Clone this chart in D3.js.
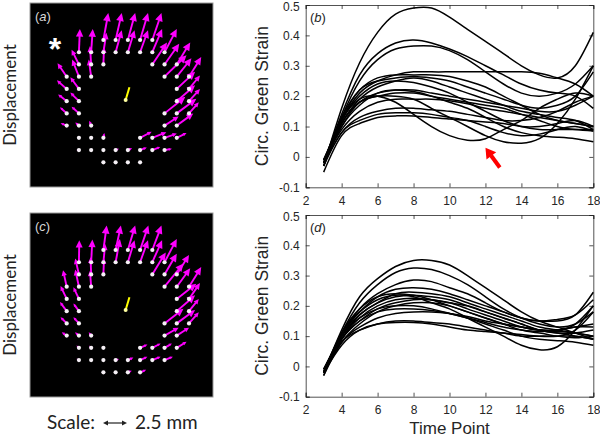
<!DOCTYPE html>
<html><head><meta charset="utf-8">
<script src="https://cdn.jsdelivr.net/npm/d3@7"></script>
<style>html,body{margin:0;padding:0;background:#fff;} svg{display:block}</style>
</head><body>
<svg id="fig" width="600" height="438"></svg>
<script>
// ---------------- DATA ----------------
const timePoints = [3,4,5,6,7,8,9,10,11,12,13,14,15,16,17,18];
const xTicks = [2,4,6,8,10,12,14,16,18];
const yTicks = [-0.1,0,0.1,0.2,0.3,0.4,0.5];

// panel (b) circumferential Green strain curves
const strainB = [
  [-0.03,0.16,0.31,0.41,0.47,0.49,0.49,0.46,0.42,0.38,0.34,0.30,0.27,0.26,0.30,0.41],
  [-0.02,0.14,0.27,0.34,0.375,0.385,0.375,0.355,0.33,0.30,0.27,0.24,0.22,0.21,0.20,0.16],
  [-0.02,0.13,0.25,0.32,0.355,0.365,0.365,0.35,0.32,0.28,0.24,0.21,0.20,0.21,0.24,0.30],
  [-0.01,0.12,0.21,0.25,0.27,0.28,0.28,0.28,0.28,0.28,0.28,0.28,0.275,0.26,0.24,0.20],
  [-0.02,0.13,0.22,0.26,0.27,0.27,0.27,0.265,0.25,0.23,0.20,0.17,0.14,0.12,0.11,0.10],
  [-0.03,0.12,0.22,0.25,0.26,0.265,0.26,0.25,0.23,0.21,0.19,0.17,0.16,0.17,0.20,0.28],
  [-0.02,0.11,0.19,0.23,0.25,0.26,0.25,0.23,0.21,0.19,0.17,0.15,0.14,0.13,0.12,0.09],
  [-0.02,0.10,0.18,0.21,0.22,0.22,0.21,0.20,0.19,0.18,0.17,0.16,0.15,0.15,0.17,0.20],
  [-0.01,0.11,0.18,0.20,0.21,0.21,0.20,0.19,0.18,0.17,0.16,0.14,0.12,0.10,0.09,0.085],
  [-0.02,0.12,0.19,0.20,0.18,0.14,0.10,0.07,0.055,0.06,0.09,0.12,0.16,0.19,0.21,0.20],
  [-0.03,0.11,0.18,0.20,0.20,0.19,0.16,0.13,0.10,0.07,0.05,0.045,0.06,0.11,0.19,0.30],
  [-0.01,0.09,0.15,0.18,0.19,0.19,0.19,0.185,0.175,0.16,0.15,0.14,0.13,0.12,0.11,0.10],
  [-0.02,0.08,0.13,0.15,0.16,0.16,0.155,0.15,0.14,0.13,0.12,0.12,0.13,0.15,0.18,0.20],
  [-0.05,0.07,0.11,0.13,0.135,0.135,0.13,0.125,0.12,0.115,0.11,0.10,0.10,0.11,0.12,0.10],
  [-0.03,0.08,0.12,0.14,0.145,0.145,0.14,0.13,0.12,0.10,0.08,0.07,0.075,0.09,0.10,0.085],
  [-0.02,0.10,0.17,0.21,0.22,0.215,0.20,0.18,0.16,0.13,0.10,0.08,0.07,0.065,0.06,0.05],
  [-0.02,0.12,0.20,0.24,0.25,0.245,0.23,0.21,0.18,0.15,0.12,0.10,0.09,0.09,0.09,0.09]
];

// panel (d) circumferential Green strain curves
const strainD = [
  [-0.02,0.12,0.23,0.29,0.33,0.35,0.35,0.335,0.30,0.26,0.22,0.18,0.15,0.13,0.11,0.09],
  [-0.02,0.11,0.21,0.27,0.31,0.325,0.32,0.30,0.27,0.23,0.19,0.16,0.14,0.13,0.14,0.18],
  [-0.02,0.10,0.19,0.24,0.27,0.285,0.28,0.26,0.24,0.21,0.18,0.16,0.15,0.155,0.17,0.22],
  [-0.03,0.10,0.18,0.23,0.255,0.26,0.255,0.24,0.22,0.20,0.18,0.16,0.15,0.15,0.17,0.245],
  [-0.02,0.09,0.17,0.21,0.24,0.245,0.24,0.23,0.21,0.19,0.17,0.15,0.13,0.12,0.11,0.10],
  [-0.01,0.10,0.17,0.21,0.23,0.235,0.23,0.22,0.20,0.18,0.16,0.14,0.12,0.11,0.11,0.12],
  [-0.02,0.11,0.18,0.22,0.235,0.23,0.21,0.19,0.16,0.13,0.10,0.07,0.055,0.065,0.12,0.20],
  [-0.01,0.09,0.15,0.19,0.21,0.22,0.22,0.21,0.20,0.18,0.16,0.14,0.12,0.11,0.10,0.09],
  [-0.02,0.08,0.14,0.18,0.20,0.21,0.21,0.20,0.18,0.16,0.14,0.13,0.12,0.12,0.13,0.14],
  [-0.02,0.09,0.15,0.18,0.19,0.19,0.185,0.175,0.16,0.14,0.12,0.10,0.09,0.085,0.08,0.07],
  [-0.03,0.08,0.13,0.16,0.175,0.18,0.18,0.175,0.165,0.15,0.14,0.13,0.12,0.115,0.11,0.10],
  [-0.02,0.07,0.12,0.14,0.145,0.145,0.14,0.13,0.12,0.115,0.11,0.105,0.10,0.10,0.12,0.18],
  [-0.02,0.08,0.12,0.14,0.15,0.15,0.145,0.14,0.13,0.12,0.11,0.10,0.10,0.10,0.10,0.09],
  [-0.01,0.10,0.16,0.19,0.20,0.20,0.19,0.175,0.16,0.145,0.13,0.12,0.115,0.12,0.13,0.13],
  [-0.02,0.11,0.19,0.23,0.24,0.235,0.22,0.20,0.18,0.16,0.14,0.12,0.11,0.10,0.095,0.10],
  [-0.02,0.09,0.16,0.20,0.22,0.225,0.22,0.21,0.19,0.17,0.15,0.13,0.12,0.12,0.14,0.20]
];

// red arrow in (b): from / to in data units
const redArrowFrom = [12.8, -0.035];
const redArrowTo = [12.0, 0.03];

// displacement grid points (row, col indices) and vectors (grid units, v = up)
const dotRow = [0,0,0,0,0, 1,1,1,1,1,1,1,1, 2,2,2,2,2,2, 3,3,3,3,3,3, 4,4,4,4, 5,5,5,5, 6,6,6,6,6, 7,7,7,7,7, 8,8,8,8,8,8,8, 9,9,9,9,9,9,9,9, 10,10,10,10];
const dotCol = [3,4,5,6,7, 1,2,3,4,5,6,7,8, 1,2,3,7,8,9, 0,1,2,8,9,10, 0,1,9,10, 0,1,9,10, 0,1,8,9,10, 0,1,2,8,9, 1,2,3,6,7,8,9, 1,2,3,4,5,6,7,8, 3,4,5,6];
const uA = [0.4,0.5,0.6,0.65,0.75, 0.08,0.13,0.25,0.5,0.55,0.65,0.8,1.0, -0.6,-0.1,0.05,1.2,1.2,1.1, -0.75,-0.55,-0.2,1.8,1.2,1.0, -0.8,-0.7,1.5,0.9, -0.7,-0.7,1.5,0.9, -0.55,-0.6,1.7,1.6,0.8, -0.5,-0.3,-0.15,1.15,1.35, -0.1,-0.05,0.08,0.95,1.15,1.0,0.8, -0.2,-0.05,0,0.27,0.35,0.55,0.65,0.6, 0,0,0,0];
const vA = [2.2,2.2,2.2,2.2,2.2, 1.9,1.9,1.6,1.8,1.8,1.8,1.9,1.9, 1.2,1.5,1.4,1.8,1.7,1.8, 1.1,1.4,1.4,1.75,1.5,1.6, 0.7,0.95,1.4,1.1, 0.55,0.7,1.3,1.0, 0.5,0.55,1.35,1.2,0.9, 0.2,0.25,0.4,0.75,1.0, 0.05,0.15,0.4,0.5,0.45,0.35,0.4, 0,0.05,0.1,0.1,0.15,0.2,0.25,0.1, 0,0,0,0];
const uC = [0.27,0.43,0.6,0.68,0.75, 0.03,0.1,0.15,0.35,0.55,0.65,0.8,1.0, -0.3,-0.05,0.05,1.1,1.0,1.0, -0.3,-0.3,-0.1,1.55,1.1,1.0, -0.5,-0.45,1.6,0.9, -0.55,-0.45,1.5,0.8, -0.5,-0.45,1.55,1.5,0.8, -0.4,-0.32,-0.2,1.15,1.0, -0.2,-0.15,0,0.6,0.68,0.6,0.8, -0.2,0,0,0.27,0.45,0.6,0.68,0.68, 0,0,0.32,0.5];
const vC = [2.0,2.0,2.0,2.0,2.0, 1.8,1.85,1.5,1.9,1.8,1.8,1.8,1.9, 1.3,1.4,1.3,1.8,1.7,1.6, 1.35,1.4,1.3,1.9,1.5,1.6, 1.05,0.95,1.25,1.3, 0.75,0.62,1.3,1.0, 0.5,0.5,1.2,1.1,0.9, 0.27,0.27,0.27,0.65,0.65, 0.2,0.2,0,0.27,0.35,0.35,0.5, 0.1,0,0,0.08,0.2,0.27,0.27,0.27, 0,0,0.13,0.2];
// centre marker (grid units) and its yellow vector
const centre = [4.82, 4.9];
const centreVec = [0.3, 1.0];

// ---------------- DRAW ----------------
const svg = d3.select("#fig");
svg.append("rect").attr("width",600).attr("height",438).attr("fill","#fff");

function arrowHead(g, x0, y0, x1, y1, color, stemW, hLen, hW) {
  const dx = x1 - x0, dy = y1 - y0, len = Math.hypot(dx, dy);
  if (len < 0.8) return;
  const ux = dx/len, uy = dy/len;
  const h = Math.min(hLen, len*0.8);
  const bx = x1 - ux*h, by = y1 - uy*h;
  g.append("line").attr("x1",x0).attr("y1",y0).attr("x2",bx+ux*0.5).attr("y2",by+uy*0.5)
    .attr("stroke",color).attr("stroke-width",stemW);
  const w = hW * (h/hLen);
  g.append("path").attr("d",`M${x1},${y1}L${bx-uy*w},${by+ux*w}L${bx+uy*w},${by-ux*w}Z`).attr("fill",color);
}

function drawField(top, u, v, letter, star) {
  const g = svg.append("g");
  g.append("rect").attr("x",30).attr("y",top).attr("width",183).attr("height",184)
    .attr("fill","#000").attr("stroke","#9a9a9a").attr("stroke-width",1);
  const gx = d3.scaleLinear().domain([0,10]).range([66.7,189]);
  const gy = d3.scaleLinear().domain([0,10]).range([top+37, top+159.3]);
  dotRow.forEach((r,i) => {
    const c = dotCol[i];
    const x0 = gx(c), y0 = gy(r), x1 = gx(c+u[i]), y1 = gy(r - v[i]);
    const len = Math.hypot(x1-x0, y1-y0);
    const hl = Math.max(3, Math.min(8, len*0.33));
    arrowHead(g, x0, y0, x1, y1, "#ff00ff", 1.9, hl, hl*0.48);
  });
  g.selectAll("circle.dot").data(dotRow).enter().append("circle").attr("class","dot")
    .attr("cx",(r,i)=>gx(dotCol[i])).attr("cy",r=>gy(r)).attr("r",2.1).attr("fill","#f5f0f5");
  arrowHead(g, gx(centre[0]), gy(centre[1]), gx(centre[0]+centreVec[0]), gy(centre[1]-centreVec[1]), "#ffff00", 2, 0.1, 0.1);
  g.append("circle").attr("cx",gx(centre[0])).attr("cy",gy(centre[1])).attr("r",2).attr("fill","#ffffa0");
  const t = g.append("text").attr("x",35).attr("y",top+18).attr("fill","#d8d8d8")
    .attr("font-family","Liberation Sans, Arial, sans-serif").attr("font-size",13);
  t.append("tspan").text("(");
  t.append("tspan").attr("font-style","italic").text(letter);
  t.append("tspan").text(")");
  if (star) {
    g.append("text").attr("x",55).attr("y",top+57).attr("text-anchor","middle").attr("fill","#fff")
      .attr("font-family","Liberation Sans, Arial, sans-serif").attr("font-weight","bold").attr("font-size",32).text("*");
  }
  svg.append("text").attr("transform",`translate(16,${top+92}) rotate(-90)`).attr("text-anchor","middle")
    .attr("font-family","Lato, Open Sans, sans-serif").attr("font-size",17).attr("fill","#222").text("Displacement");
}

drawField(3, uA, vA, "a", true);
drawField(213, uC, vC, "c", false);

// scale bar text
const sc = svg.append("g").attr("font-family","Lato, Open Sans, sans-serif").attr("font-size",19).attr("fill","#222");
sc.append("text").attr("x",47).attr("y",429).text("Scale:");
sc.append("text").attr("x",135).attr("y",429).text("2.5 mm");
const sa = svg.append("g");
arrowHead(sa, 115, 423, 127, 423, "#222", 1.2, 5, 2.6);
arrowHead(sa, 115, 423, 103, 423, "#222", 1.2, 5, 2.6);

function drawStrain(yTop, yBot, curves, letter, showXLabel) {
  const x = d3.scaleLinear().domain([2,18]).range([305.7,593.3]);
  const y = d3.scaleLinear().domain([-0.1,0.5]).range([yBot,yTop]);
  const g = svg.append("g").attr("font-family","Liberation Sans, Arial, sans-serif");
  const fmtY = d => d === 0 ? "0" : (d < 0 ? "-" + Math.abs(d).toFixed(1) : d.toFixed(1));
  const axB = g.append("g").attr("transform",`translate(0,${yBot})`)
    .call(d3.axisBottom(x).tickValues(xTicks).tickSize(-4).tickPadding(9).tickFormat(d3.format("d")));
  const axT = g.append("g").attr("transform",`translate(0,${yTop})`)
    .call(d3.axisTop(x).tickValues(xTicks).tickSize(-4).tickFormat(""));
  const axL = g.append("g").attr("transform",`translate(305.7,0)`)
    .call(d3.axisLeft(y).tickValues(yTicks).tickSize(-4).tickPadding(6).tickFormat(fmtY));
  const axR = g.append("g").attr("transform",`translate(593.3,0)`)
    .call(d3.axisRight(y).tickValues(yTicks).tickSize(-4).tickFormat(""));
  [axB,axT,axL,axR].forEach(a => {
    a.selectAll("path,line").attr("stroke","#262626").attr("stroke-width",0.8);
    a.selectAll("text").attr("font-size",12).attr("fill","#262626").attr("font-family","Liberation Sans, Arial, sans-serif");
  });
  // keep the top tick label inside the picture
  axL.selectAll(".tick text").filter(d => d === 0.5).attr("dy","0.45em");
  const line = d3.line().x((d,i)=>x(timePoints[i])).y(d=>y(d)).curve(d3.curveNatural);
  g.append("g").selectAll("path").data(curves).enter().append("path")
    .attr("d",line).attr("fill","none").attr("stroke","#000").attr("stroke-width",1.5);
  const t = g.append("text").attr("x",310).attr("y",yTop+17).attr("fill","#262626").attr("font-size",13);
  t.append("tspan").text("(");
  t.append("tspan").attr("font-style","italic").text(letter);
  t.append("tspan").text(")");
  g.append("text").attr("transform",`translate(268,${(yTop+yBot)/2}) rotate(-90)`).attr("text-anchor","middle")
    .attr("font-size",17.5).attr("fill","#262626").text("Circ. Green Strain");
  if (showXLabel) {
    g.append("text").attr("x",(305.7+593.3)/2).attr("y",434).attr("text-anchor","middle")
      .attr("font-size",17).attr("fill","#262626").text("Time Point");
  }
  return {x, y, g};
}

const pb = drawStrain(5, 187.3, strainB, "b", false);
drawStrain(215, 396.7, strainD, "d", true);

// red arrow in (b)
const ra = svg.append("g");
arrowHead(ra, pb.x(redArrowFrom[0]), pb.y(redArrowFrom[1]), pb.x(redArrowTo[0]), pb.y(redArrowTo[1]), "#ff0000", 4, 10, 6);
</script></body></html>
